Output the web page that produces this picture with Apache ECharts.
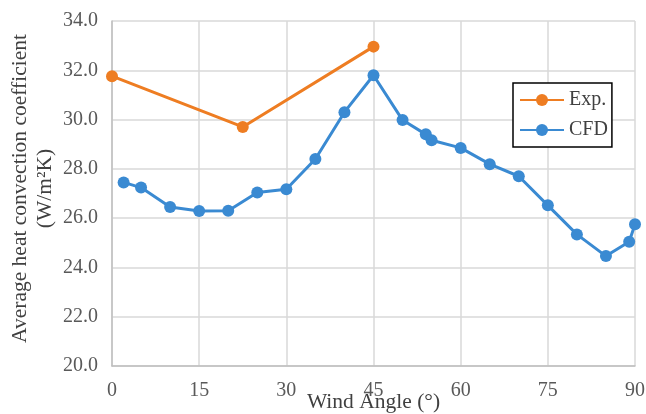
<!DOCTYPE html>
<html><head><meta charset="utf-8">
<script src="https://cdn.jsdelivr.net/npm/echarts@6/dist/echarts.min.js"></script>
<style>html,body{margin:0;padding:0;background:#fff}#c{width:646px;height:414px}</style>
</head><body><div id="c"></div>
<script>
const expAngles = [0, 22.5, 45];
const expValues = [31.76, 29.7, 32.96];
const cfdAngles = [2, 5, 10, 15, 20, 25, 30, 35, 40, 45, 50, 54, 55, 60, 65, 70, 75, 80, 85, 89, 90];
const cfdValues = [27.45, 27.24, 26.45, 26.29, 26.3, 27.04, 27.17, 28.4, 30.3, 31.8, 29.98, 29.4, 29.16, 28.85, 28.19, 27.7, 26.52, 25.34, 24.46, 25.04, 25.75];
const xTicks = [0, 15, 30, 45, 60, 75, 90];
const yTicks = [20, 22, 24, 26, 28, 30, 32, 34];

const font = 'Liberation Serif';
const chart = echarts.init(document.getElementById('c'));
chart.setOption({
  animation: false,
  textStyle: {fontFamily: font},
  grid: {left: 112, right: 11, top: 21, bottom: 48, containLabel: false, outerBoundsMode: 'none'},
  legend: {
    orient: 'vertical', left: 513, top: 83,
    backgroundColor: '#fff', borderColor: '#000', borderWidth: 1.5,
    padding: [7, 4, 7, 6], itemGap: 10, itemWidth: 44, itemHeight: 15,
    textStyle: {fontFamily: font, fontSize: 20, color: '#404040'},
    data: ['Exp.', 'CFD']
  },
  xAxis: {
    type: 'value', min: xTicks[0], max: xTicks[xTicks.length - 1], interval: 15,
    name: 'Wind Angle (°)', nameLocation: 'middle', nameGap: 25, nameMoveOverlap: false,
    nameTextStyle: {fontFamily: font, fontSize: 21.5, color: '#404040'},
    axisLine: {show: true, lineStyle: {color: '#bfbfbf', width: 1.5}},
    axisTick: {show: false},
    axisLabel: {fontFamily: font, fontSize: 20, color: '#595959', margin: 15},
    splitLine: {show: true, lineStyle: {color: '#d9d9d9', width: 1.5}}
  },
  yAxis: {
    type: 'value', min: yTicks[0], max: yTicks[yTicks.length - 1], interval: 2,
    name: 'Average heat convection coefficient\n(W/m²K)', nameLocation: 'middle', nameGap: 54, nameMoveOverlap: false,
    nameTextStyle: {fontFamily: font, fontSize: 21.5, color: '#404040', lineHeight: 25, padding: [0, 0, 0, 10]},
    axisLine: {show: true, lineStyle: {color: '#bfbfbf', width: 1.5}},
    axisTick: {show: false},
    axisLabel: {fontFamily: font, fontSize: 20, color: '#595959', margin: 14,
      formatter: v => v.toFixed(1)},
    splitLine: {show: true, lineStyle: {color: '#d9d9d9', width: 1.5}}
  },
  series: [
    {name: 'Exp.', type: 'line', data: expAngles.map((a, i) => [a, expValues[i]]),
     symbol: 'circle', symbolSize: 12, color: '#EE7D22',
     lineStyle: {width: 3, color: '#EE7D22'}, itemStyle: {color: '#EE7D22'}},
    {name: 'CFD', type: 'line', data: cfdAngles.map((a, i) => [a, cfdValues[i]]),
     symbol: 'circle', symbolSize: 12, color: '#3A8AD2',
     lineStyle: {width: 3, color: '#3A8AD2'}, itemStyle: {color: '#3A8AD2'}}
  ]
});
</script></body></html>
